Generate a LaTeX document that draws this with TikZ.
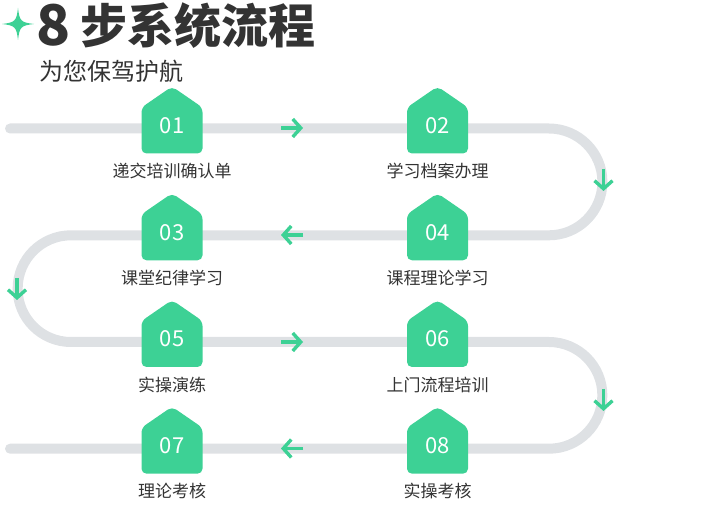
\documentclass[tikz,border=0pt]{standalone}
\usepackage{fontspec}
\setmainfont{Noto Sans CJK SC}
\usetikzlibrary{arrows.meta}
\definecolor{gr}{HTML}{3DD195}
\definecolor{track}{HTML}{DEE1E4}
\definecolor{ink}{HTML}{333333}
\tikzset{
  trackline/.style={draw=track,line width=10pt,line cap=round},
  flowarrow/.style={draw=gr,line width=3.4pt,-{Straight Barb[length=8pt,width=18pt,line width=3.4pt]}},
  numtext/.style={text=white,font=\fontsize{22}{22}\selectfont,inner sep=0pt},
  labeltext/.style={text=ink,font=\fontsize{17}{17}\selectfont,inner sep=0pt},
  titletext/.style={text=ink,inner sep=0pt,anchor=base west},
  housefill/.style={fill=gr,rounded corners=5pt}
}
\newcommand{\house}[3]{%
  \fill[housefill] (#2,#3-42) -- (#2+30.5,#3-21) -- (#2+30.5,#3+25) -- (#2-30.5,#3+25) -- (#2-30.5,#3-21) -- cycle;
}
\begin{document}
\begin{tikzpicture}[x=1pt,y=-1pt]
\useasboundingbox (0,0) rectangle (726,518);
% title
\fill[gr] (18,8) .. controls (19.5,21) and (21,22.5) .. (34,24)
          .. controls (21,25.5) and (19.5,27) .. (18,40)
          .. controls (16.5,27) and (15,25.5) .. (2,24)
          .. controls (15,22.5) and (16.5,21) .. cycle;
\node[titletext,font=\fontsize{56}{56}\selectfont\bfseries] (eight) at (36,46) {8};
\node[titletext,font=\fontsize{47}{47}\selectfont\bfseries] (title) at (80,44) {步系统流程};
\node[titletext,font=\fontsize{24}{24}\selectfont] (subtitle) at (39,81) {为您保驾护航};
% track
\draw[trackline] (10,128.5) -- (549,128.5) arc[start angle=-90,end angle=90,radius=53.4]
  -- (71,235.3) arc[start angle=-90,end angle=-270,radius=53.35]
  -- (549,342) arc[start angle=-90,end angle=90,radius=53.35]
  -- (10,448.7);
% houses
\house{n1}{172}{128.5}
\house{n2}{437.5}{128.5}
\house{n3}{172}{235.3}
\house{n4}{437.5}{235.3}
\house{n5}{172}{342}
\house{n6}{437.5}{342}
\house{n7}{172}{448.7}
\house{n8}{437.5}{448.7}
% numbers
\node[numtext] (n01) at (172,125.5) {01};
\node[numtext] (n02) at (437.5,125.5) {02};
\node[numtext] (n03) at (172,232.3) {03};
\node[numtext] (n04) at (437.5,232.3) {04};
\node[numtext] (n05) at (172,339) {05};
\node[numtext] (n06) at (437.5,339) {06};
\node[numtext] (n07) at (172,445.7) {07};
\node[numtext] (n08) at (437.5,445.7) {08};
% labels
\node[labeltext] (l01) at (172,171) {递交培训确认单};
\node[labeltext] (l02) at (437.5,171) {学习档案办理};
\node[labeltext] (l03) at (172,277.8) {课堂纪律学习};
\node[labeltext] (l04) at (437.5,277.8) {课程理论学习};
\node[labeltext] (l05) at (172,384.5) {实操演练};
\node[labeltext] (l06) at (437.5,384.5) {上门流程培训};
\node[labeltext] (l07) at (172,491.2) {理论考核};
\node[labeltext] (l08) at (437.5,491.2) {实操考核};
% arrows
\coordinate (a1s) at (281,128);   \coordinate (a1e) at (303,128);
\coordinate (a2s) at (303,235);   \coordinate (a2e) at (281,235);
\coordinate (a3s) at (281,342);   \coordinate (a3e) at (303,342);
\coordinate (a4s) at (303,448.5); \coordinate (a4e) at (281,448.5);
\coordinate (d1s) at (603.5,169); \coordinate (d1e) at (603.5,191);
\coordinate (d2s) at (17,278);    \coordinate (d2e) at (17,300);
\coordinate (d3s) at (603.5,389); \coordinate (d3e) at (603.5,411);
\draw[flowarrow] (a1s) -- (a1e);
\draw[flowarrow] (a2s) -- (a2e);
\draw[flowarrow] (a3s) -- (a3e);
\draw[flowarrow] (a4s) -- (a4e);
\draw[flowarrow] (d1s) -- (d1e);
\draw[flowarrow] (d2s) -- (d2e);
\draw[flowarrow] (d3s) -- (d3e);
\end{tikzpicture}
\end{document}
